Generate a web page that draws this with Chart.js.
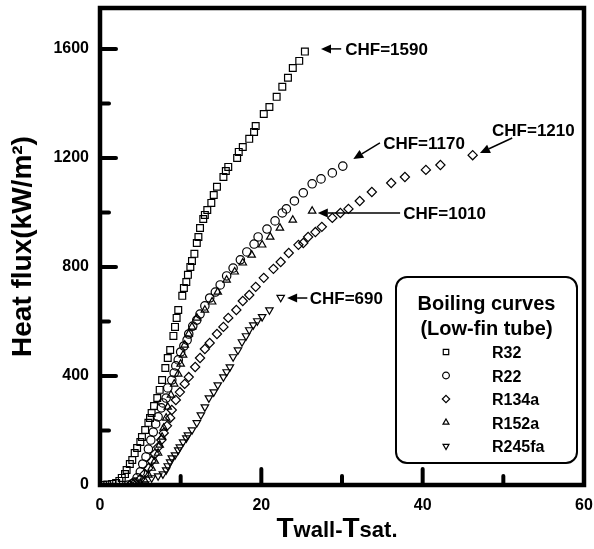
<!DOCTYPE html>
<html><head><meta charset="utf-8">
<script src="https://cdn.jsdelivr.net/npm/chart.js@4.4.1/dist/chart.umd.min.js"></script>
<style>html,body{margin:0;padding:0;background:#fff}</style>
</head><body>
<canvas id="c" width="594" height="549"></canvas>
<script>
// ---------- data ----------
const seriesNames = ['R32', 'R22', 'R134a', 'R152a', 'R245fa'];

const r32X = [0.4,0.9,1.5,2.0,2.4,2.7,3.1,3.3,3.7,4.0,4.3,4.6,5.0,5.2,5.6,6.0,6.2,6.4,6.7,7.1,7.4,7.7,8.1,8.4,8.7,9.1,9.3,9.5,9.7,10.2,10.4,10.7,10.9,11.2,11.4,11.7,12.0,12.2,12.4,12.8,13.0,13.3,13.8,14.1,14.5,15.3,15.6,15.9,17.0,17.2,17.7,18.5,19.1,19.3,20.3,21.0,21.9,22.6,23.3,23.9,24.7,25.4];
const r32Y = [0,2,4,7,15,26,40,55,77,92,117,136,158,176,202,228,246,264,290,319,349,385,429,466,495,547,580,613,642,694,723,745,771,800,822,848,888,910,943,976,991,1009,1035,1064,1094,1130,1152,1167,1200,1222,1240,1270,1295,1317,1361,1387,1424,1461,1494,1530,1556,1590];

const r22X = [3.5,4.0,4.3,4.6,5.0,5.3,5.7,6.0,6.3,6.6,6.9,7.2,7.6,7.8,8.2,8.4,8.9,9.2,9.4,9.7,10.0,10.4,10.8,11.0,11.5,12.0,12.4,13.0,13.6,14.3,14.9,15.7,16.5,17.4,18.2,19.1,19.6,20.7,21.7,22.6,23.1,24.1,25.2,26.3,27.4,28.8,30.1];
const r22Y = [0,4,11,26,48,77,103,132,165,194,224,250,283,301,319,356,385,411,437,459,488,510,532,554,583,605,627,657,686,708,734,767,796,826,855,884,910,939,969,998,1013,1042,1072,1105,1123,1145,1170];

const r134aX = [3.7,4.3,5.0,5.5,6.0,6.4,6.8,7.2,7.6,7.9,8.3,8.7,8.9,9.4,9.9,10.5,11.0,11.8,12.4,13.0,13.6,14.5,15.3,15.9,16.9,17.7,18.5,19.3,20.3,21.5,22.4,23.4,24.6,25.2,25.8,26.7,27.5,28.8,29.8,30.8,32.2,33.7,36.1,37.8,40.4,42.2,46.2];
const r134aY = [0,7,22,40,62,88,114,139,165,191,217,246,275,312,341,371,396,433,466,499,521,554,580,613,642,675,697,727,760,793,818,851,881,888,910,928,947,980,998,1013,1042,1075,1108,1130,1156,1174,1210];

const r152aX = [4.3,5.0,5.5,6.0,6.4,6.8,7.2,7.4,7.7,7.9,8.2,8.4,8.8,9.2,9.7,10.0,10.3,10.5,11.0,11.4,12.0,13.0,13.9,14.6,15.7,16.7,17.7,18.8,20.1,21.1,22.3,23.9,26.3];
const r152aY = [0,7,18,37,62,88,117,147,176,209,246,286,330,371,407,444,477,514,554,580,613,642,672,708,752,782,815,844,881,910,943,972,1005];

const r245faX = [5.6,6.4,7.2,7.8,8.2,8.4,8.7,8.9,9.3,9.7,9.9,10.3,10.7,10.9,11.4,12.0,12.5,13.0,13.5,14.1,14.6,15.3,15.7,16.1,16.5,17.1,17.6,18.1,18.5,19.0,19.5,20.1,21.0,22.4];
const r245faY = [4,26,33,40,55,70,84,99,110,128,139,158,172,183,202,228,257,286,319,341,367,396,415,433,470,495,525,547,569,587,602,617,642,688];

const chfValues = [1590, 1170, 1210, 1010, 690];

const xMajorTicks = [0, 20, 40, 60];
const xMinorTicks = [10, 30, 50];
const yMajorTicks = [0, 400, 800, 1200, 1600];
const yMinorTicks = [200, 600, 1000, 1400];

const legendTitle = ['Boiling curves', '(Low-fin tube)'];
const yAxisTitle = 'Heat flux(kW/m\u00B2)';
const xTitleParts = ['T', 'wall', '-', 'T', 'sat.'];

// ---------- layout / style (not data) ----------
const FONT = '"Liberation Sans", Arial, Helvetica, sans-serif';
const markerStyles = [
  {style: 'rect', r: 4.8, rot: 0},
  {style: 'circle', r: 4.2, rot: 0},
  {style: 'rectRot', r: 4.6, rot: 0},
  {style: 'triangle', r: 4.3, rot: 0},
  {style: 'triangle', r: 4.3, rot: 180}
];
// annotation layout in data units: text anchor (left, middle), arrow start, arrow tip
const chfLayout = [
  {tx: 30.4, ty: 1598, ax: 29.9, ay: 1600, bx: 27.4, by: 1600},
  {tx: 35.1, ty: 1255, ax: 34.7, ay: 1255, bx: 31.4, by: 1196},
  {tx: 48.6, ty: 1302, ax: 51.1, ay: 1273, bx: 47.1, by: 1218},
  {tx: 37.6, ty: 998,  ax: 37.2, ay: 998,  bx: 27.0, by: 998},
  {tx: 26.0, ty: 686,  ax: 25.7, ay: 686,  bx: 23.2, by: 686}
];

function toPoints(xs, ys) { return xs.map((x, i) => ({x: x, y: ys[i]})); }
const seriesX = [r32X, r22X, r134aX, r152aX, r245faX];
const seriesY = [r32Y, r22Y, r134aY, r152aY, r245faY];

const datasets = seriesNames.map((name, i) => ({
  label: name,
  data: toPoints(seriesX[i], seriesY[i]),
  showLine: false,
  pointStyle: markerStyles[i].style,
  pointRadius: markerStyles[i].r,
  pointRotation: markerStyles[i].rot,
  pointBorderColor: '#000',
  pointBackgroundColor: 'rgba(0,0,0,0)',
  pointBorderWidth: 1.2,
  borderColor: '#000',
  backgroundColor: 'rgba(0,0,0,0)'
}));

function drawMarker(ctx, style, rot, x, y, r) {
  ctx.save();
  ctx.translate(x, y);
  ctx.rotate(rot * Math.PI / 180);
  ctx.beginPath();
  if (style === 'rect') { const s = r * Math.SQRT1_2; ctx.rect(-s, -s, 2 * s, 2 * s); }
  else if (style === 'circle') { ctx.arc(0, 0, r, 0, Math.PI * 2); }
  else if (style === 'rectRot') { ctx.moveTo(0, -r); ctx.lineTo(r, 0); ctx.lineTo(0, r); ctx.lineTo(-r, 0); ctx.closePath(); }
  else if (style === 'triangle') { ctx.moveTo(0, -r); ctx.lineTo(r * 0.866, r / 2); ctx.lineTo(-r * 0.866, r / 2); ctx.closePath(); }
  ctx.stroke();
  ctx.restore();
}

function drawArrow(ctx, x1, y1, x2, y2) {
  const ang = Math.atan2(y2 - y1, x2 - x1);
  const hl = 10, hw = 4.5;
  const bx = x2 - hl * Math.cos(ang), by = y2 - hl * Math.sin(ang);
  ctx.beginPath();
  ctx.moveTo(x1, y1);
  ctx.lineTo(bx, by);
  ctx.stroke();
  ctx.beginPath();
  ctx.moveTo(x2, y2);
  ctx.lineTo(bx + hw * Math.sin(ang), by - hw * Math.cos(ang));
  ctx.lineTo(bx - hw * Math.sin(ang), by + hw * Math.cos(ang));
  ctx.closePath();
  ctx.fill();
}

const decor = {
  id: 'decor',
  afterDatasetsDraw(chart) {
    const ctx = chart.ctx;
    const ca = chart.chartArea;
    const xs = chart.scales.x, ys = chart.scales.y;
    ctx.save();
    ctx.strokeStyle = '#000';
    ctx.fillStyle = '#000';

    // frame
    ctx.lineWidth = 4.5;
    ctx.lineJoin = 'miter';
    ctx.strokeRect(ca.left, ca.top, ca.right - ca.left, ca.bottom - ca.top);

    // inward ticks
    ctx.lineWidth = 4;
    ctx.lineCap = 'round';
    const tick = (x1, y1, x2, y2) => { ctx.beginPath(); ctx.moveTo(x1, y1); ctx.lineTo(x2, y2); ctx.stroke(); };
    xMajorTicks.forEach(v => { const p = xs.getPixelForValue(v); tick(p, ca.bottom, p, ca.bottom - 16); });
    xMinorTicks.forEach(v => { const p = xs.getPixelForValue(v); tick(p, ca.bottom, p, ca.bottom - 9); });
    yMajorTicks.forEach(v => { const p = ys.getPixelForValue(v); tick(ca.left, p, ca.left + 16, p); });
    yMinorTicks.forEach(v => { const p = ys.getPixelForValue(v); tick(ca.left, p, ca.left + 9, p); });
    ctx.lineCap = 'butt';

    // CHF annotations
    ctx.lineWidth = 1.5;
    ctx.font = 'bold 17px ' + FONT;
    ctx.textAlign = 'left';
    ctx.textBaseline = 'alphabetic';
    chfValues.forEach((v, i) => {
      const L = chfLayout[i];
      drawArrow(ctx, xs.getPixelForValue(L.ax), ys.getPixelForValue(L.ay),
                     xs.getPixelForValue(L.bx), ys.getPixelForValue(L.by));
      ctx.fillText('CHF=' + v, xs.getPixelForValue(L.tx), ys.getPixelForValue(L.ty) + 6);
    });

    // legend box
    const x0 = ca.right - 188, x1 = ca.right - 7, y1 = ca.bottom - 22, y0 = y1 - 186;
    ctx.lineWidth = 2;
    ctx.beginPath();
    ctx.roundRect(x0, y0, x1 - x0, y1 - y0, 11);
    ctx.fillStyle = '#fff';
    ctx.fill();
    ctx.stroke();
    ctx.fillStyle = '#000';
    const cx = (x0 + x1) / 2;
    ctx.textAlign = 'center';
    ctx.font = 'bold 20px ' + FONT;
    ctx.fillText(legendTitle[0], cx, y0 + 33);
    ctx.fillText(legendTitle[1], cx, y0 + 58);
    ctx.textAlign = 'left';
    ctx.font = 'bold 16px ' + FONT;
    ctx.lineWidth = 1.2;
    seriesNames.forEach((name, i) => {
      const yy = y0 + 75 + i * 23.5;
      drawMarker(ctx, markerStyles[i].style, markerStyles[i].rot, x0 + 50, yy, markerStyles[i].r * 0.8);
      ctx.fillText(name, x0 + 96, yy + 6);
    });

    // x-axis title with mixed sizes
    const sizes = [28, 22, 22, 28, 22];
    let total = 0;
    const widths = xTitleParts.map((t, i) => {
      ctx.font = 'bold ' + sizes[i] + 'px ' + FONT;
      const w = ctx.measureText(t).width;
      total += w;
      return w;
    });
    let xx = (ca.left + ca.right) / 2 - 5 - total / 2;
    xTitleParts.forEach((t, i) => {
      ctx.font = 'bold ' + sizes[i] + 'px ' + FONT;
      ctx.fillText(t, xx, 537);
      xx += widths[i];
    });
    ctx.restore();
  }
};

new Chart(document.getElementById('c'), {
  type: 'scatter',
  data: {datasets: datasets},
  options: {
    responsive: false,
    animation: false,
    devicePixelRatio: 1,
    layout: {padding: {top: 8, right: 10, left: 0, bottom: 0}},
    plugins: {legend: {display: false}, tooltip: {enabled: false}},
    scales: {
      x: {
        type: 'linear', min: 0, max: 60,
        grid: {display: false, drawTicks: false},
        border: {display: false},
        ticks: {color: '#000', padding: 11, font: {family: FONT, size: 16, weight: 'bold'}, maxRotation: 0, callback: v => String(v)},
        afterBuildTicks: s => { s.ticks = xMajorTicks.map(v => ({value: v})); },
        afterFit: s => { s.height = 64; s.paddingLeft = 0; s.paddingRight = 0; }
      },
      y: {
        type: 'linear', min: 0, max: 1750,
        grid: {display: false, drawTicks: false},
        border: {display: false},
        ticks: {color: '#000', padding: 11, font: {family: FONT, size: 16, weight: 'bold'}, callback: v => String(v)},
        afterBuildTicks: s => { s.ticks = yMajorTicks.map(v => ({value: v})); },
        title: {display: true, text: yAxisTitle, color: '#000', padding: {top: 6, bottom: 0}, font: {family: FONT, size: 28, weight: 'bold'}},
        afterFit: s => { s.width = 100; s.paddingTop = 0; s.paddingBottom = 0; }
      }
    }
  },
  plugins: [decor]
});
</script>
</body></html>
